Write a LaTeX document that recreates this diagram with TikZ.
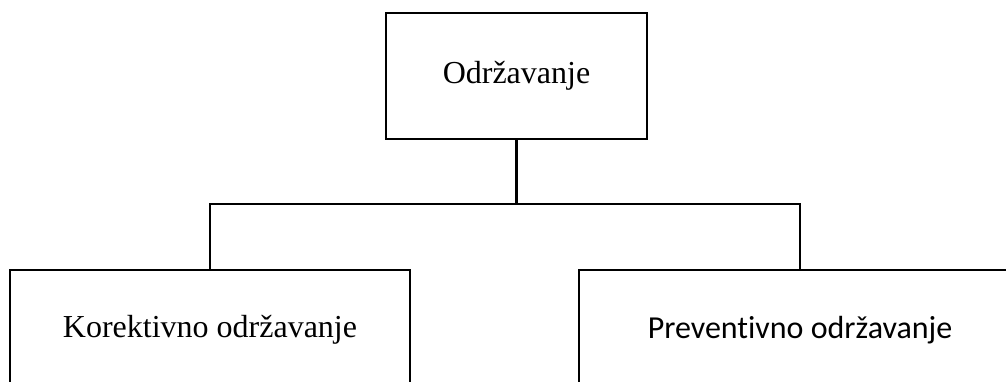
\documentclass[tikz,border=0pt]{standalone}
\usepackage{fontspec}
\setmainfont{Liberation Serif}
\newfontfamily\calibri[Ligatures=NoCommon]{Carlito}
\usetikzlibrary{positioning}

\tikzset{
  box/.style={draw, line width=2.2pt, minimum height=120pt, inner sep=0pt},
  link/.style={line width=2.2pt}
}

\begin{document}
\begin{tikzpicture}[x=1pt, y=-1pt]
\useasboundingbox (0,0) rectangle (1006,381);
\clip (0,0) rectangle (1006,381);

\def\xa{210}
\def\xb{516.5}
\def\xc{800}

\def\ya{76}
\def\yb{204}
\def\yc{330}

\node[box, minimum width=261pt, minimum height=126pt](top) at (\xb, \ya) {\fontsize{32}{38}\selectfont Održavanje};
\node[box, minimum width=400pt](left) at (\xa, \yc) {\fontsize{32}{38}\selectfont Korektivno održavanje};
\node[box, minimum width=442pt](right) at (\xc, \yc) {\fontsize{32}{38}\selectfont\calibri Preventivno održavanje};

\coordinate(split) at (\xb, \yb);
\draw[link] (top.south) -- (split);
\draw[link] (split) -| (left.north);
\draw[link] (split) -| (right.north);
\end{tikzpicture}
\end{document}
